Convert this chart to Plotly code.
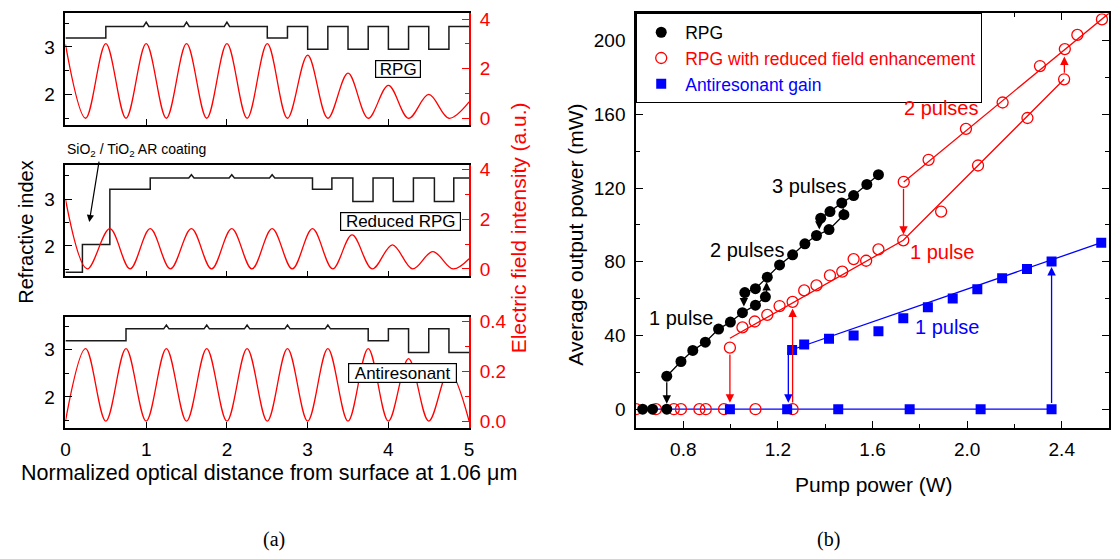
import plotly.graph_objects as go

# ---------------- DATA ----------------
# Panel (a) - refractive index layer structure (optical distance edges, index per layer)
rpg_edges = [0, 0.5, 2.5, 2.75, 3.0, 3.25, 3.5, 3.75, 4.0, 4.25, 4.5, 4.75, 5.0]
rpg_n = [3.19, 3.43, 3.19, 3.43, 2.95, 3.43, 2.95, 3.43, 2.95, 3.43, 2.95, 3.43]
rpg_qw = [1.0, 1.5, 2.0]

red_edges = [0, 0.21, 0.55, 1.05, 3.06, 3.30, 3.56, 3.81, 4.06, 4.31, 4.57, 4.81, 5.0]
red_n = [1.44, 2.03, 3.21, 3.45, 3.21, 3.45, 2.95, 3.45, 2.95, 3.45, 2.95, 3.45]
red_qw = [1.56, 2.06, 2.56]

anti_edges = [0, 0.75, 3.75, 4.0, 4.25, 4.5, 4.75, 5.0]
anti_n = [3.19, 3.44, 3.19, 3.44, 2.94, 3.44, 2.94]
anti_qw = [1.25, 1.75, 2.25, 2.75, 3.25]
qw_peak_n = 3.52

# Panel (a) - electric field intensity extrema
rpg_field_x = [0, 0.25, 0.5, 0.75, 1.0, 1.25, 1.5, 1.75, 2.0, 2.25, 2.5, 2.75,
               3.0, 3.25, 3.5, 3.75, 4.0, 4.25, 4.5, 4.75, 5.0]
rpg_field_y = [2.98, 0, 3.01, 0, 3.01, 0, 3.01, 0, 3.01, 0, 3.01, 0,
               2.55, 0, 1.82, 0, 1.33, 0, 0.96, 0, 0.66]

red_field_x = [0, 0.27, 0.55, 0.80, 1.05, 1.30, 1.56, 1.81, 2.06, 2.31, 2.56, 2.81,
               3.06, 3.31, 3.55, 3.80, 4.05, 4.30, 4.55, 4.80, 5.0]
red_field_y = [2.81, 0, 1.62, 0, 1.62, 0, 1.62, 0, 1.62, 0, 1.62, 0,
               1.62, 0, 1.37, 0, 0.97, 0, 0.70, 0, 0.41]

anti_field_x = [0, 0.25, 0.5, 0.75, 1.0, 1.25, 1.5, 1.75, 2.0, 2.25, 2.5, 2.75,
                3.0, 3.25, 3.5, 3.75, 4.0, 4.25, 4.5, 4.75, 5.0]
anti_field_y = [0, 0.29, 0, 0.29, 0, 0.29, 0, 0.29, 0, 0.29, 0, 0.29,
                0, 0.29, 0, 0.29, 0, 0.25, 0, 0.20, 0]

# Panel (b) - RPG (black)
blk_zero_x = [0.628, 0.67, 0.73]
blk_zero_y = [0, 0, 0]
blk_1p_x = [0.73, 0.79, 0.84, 0.893, 0.949, 0.999, 1.05, 1.105, 1.147]
blk_1p_y = [17.9, 25.9, 31.9, 36.4, 43.5, 47.3, 52.4, 56.5, 61.0]
blk_2p_x = [1.06, 1.105, 1.155, 1.207, 1.262, 1.314, 1.363, 1.416, 1.479]
blk_2p_y = [63.3, 65.4, 71.7, 78.3, 83.8, 89.8, 94.3, 97.5, 105.6]
blk_3p_x = [1.381, 1.42, 1.47, 1.52, 1.576, 1.625]
blk_3p_y = [103.7, 107.3, 112.0, 116.0, 122.0, 127.3]

# RPG with reduced field enhancement (red open)
rd_zero_x = [0.60, 0.684, 0.76, 0.79, 0.868, 0.895, 0.972, 1.105, 1.262]
rd_zero_y = [0, 0, 0, 0, 0, 0, 0, 0, 0]
rd_1p_x = [0.997, 1.05, 1.102, 1.155, 1.207, 1.262, 1.311, 1.363, 1.42, 1.472,
           1.52, 1.573, 1.625, 1.73, 1.89, 2.046, 2.255, 2.41]
rd_1p_y = [33.4, 44.4, 47.6, 51.2, 56.0, 58.3, 64.5, 67.2, 72.6, 74.7,
           81.5, 80.6, 86.8, 91.7, 107.3, 132.3, 158.1, 179.1]
rd_2p_x = [1.732, 1.837, 1.995, 2.15, 2.308, 2.413, 2.466, 2.57]
rd_2p_y = [123.4, 135.4, 152.2, 166.5, 186.3, 195.5, 203.2, 211.6]
rd_fit1_x = [0.997, 1.73, 2.41]
rd_fit1_y = [38.5, 91.7, 179.1]
rd_fit2_x = [1.732, 2.6]
rd_fit2_y = [123.4, 215.0]

# Antiresonant gain (blue squares)
bl_zero_x = [0.997, 1.239, 1.455, 1.757, 2.057, 2.357]
bl_zero_y = [0, 0, 0, 0, 0, 0]
bl_zero_line_x = [0.628, 2.357]
bl_zero_line_y = [0, 0]
bl_1p_x = [1.26, 1.311, 1.416, 1.52, 1.625, 1.73, 1.834, 1.939, 2.043, 2.148, 2.253, 2.357, 2.567]
bl_1p_y = [32.1, 35.1, 38.2, 40.0, 42.3, 49.4, 55.3, 60.1, 65.1, 71.1, 76.1, 80.2, 90.4]
bl_fit_x = [1.244, 2.567]
bl_fit_y = [31.6, 90.4]

# Transition arrows: (pump power, from, to, colour)
transitions = [
    (0.73, 15.5, 3.0, 'black'),
    (1.056, 63.3, 55.8, 'black'),
    (1.152, 61.0, 69.0, 'black'),
    (1.375, 103.7, 97.5, 'black'),
    (1.476, 105.6, 109.5, 'black'),
    (0.997, 30.5, 3.5, 'red'),
    (1.262, 2.8, 54.7, 'red'),
    (1.731, 120.5, 94.8, 'red'),
    (2.411, 181.8, 191.5, 'red'),
    (1.244, 31.6, 3.5, 'blue'),
    (2.357, 2.5, 77.2, 'blue'),
]

# ---------------- FIGURE ----------------
W, H = 1120, 559
def px(x):
    return x / W
def py(y):
    return 1 - y / H

FONT = "Liberation Sans, Arial, Helvetica, sans-serif"
SERIF = "Liberation Serif, Times New Roman, serif"


def profile(edges, n, qw, peak, half=0.033):
    xs, ys = [], []
    for i in range(len(n)):
        x0, x1 = edges[i], edges[i + 1]
        xs.append(x0); ys.append(n[i])
        for q in qw:
            if x0 < q < x1:
                xs += [q - half, q, q + half]
                ys += [n[i], peak, n[i]]
        xs.append(x1); ys.append(n[i])
    return xs, ys


fig = go.Figure()

panels = [
    (rpg_edges, rpg_n, rpg_qw, rpg_field_x, rpg_field_y, 'x', 'y', 'y2'),
    (red_edges, red_n, red_qw, red_field_x, red_field_y, 'x2', 'y3', 'y4'),
    (anti_edges, anti_n, anti_qw, anti_field_x, anti_field_y, 'x3', 'y5', 'y6'),
]
for edges, n, qw, fx, fy, xa, ya, ya2 in panels:
    ix, iy = profile(edges, n, qw, qw_peak_n)
    fig.add_trace(go.Scatter(x=ix, y=iy, xaxis=xa, yaxis=ya, mode='lines',
                             line=dict(color='#1a1a1a', width=1.5), showlegend=False,
                             hoverinfo='skip'))
    fig.add_trace(go.Scatter(x=fx, y=fy, xaxis=xa, yaxis=ya2, mode='lines',
                             line=dict(color='#ff0000', width=1.3, shape='spline', smoothing=1),
                             showlegend=False, hoverinfo='skip'))

# Panel (b)
XB, YB = 'x4', 'y7'
fig.add_trace(go.Scatter(x=bl_zero_line_x, y=bl_zero_line_y, xaxis=XB, yaxis=YB, mode='lines',
                         line=dict(color='#0000ff', width=1.3), showlegend=False))
fig.add_trace(go.Scatter(x=rd_fit1_x, y=rd_fit1_y, xaxis=XB, yaxis=YB, mode='lines',
                         line=dict(color='#ff0000', width=1.3), showlegend=False))
fig.add_trace(go.Scatter(x=rd_fit2_x, y=rd_fit2_y, xaxis=XB, yaxis=YB, mode='lines',
                         line=dict(color='#ff0000', width=1.3), showlegend=False))
fig.add_trace(go.Scatter(x=bl_fit_x, y=bl_fit_y, xaxis=XB, yaxis=YB, mode='lines',
                         line=dict(color='#0000ff', width=1.3), showlegend=False))

red_marker = dict(symbol='circle-open', size=11, color='#ff0000', line=dict(width=1.3, color='#ff0000'))
blue_marker = dict(symbol='square', size=10, color='#0000ff')
blk_marker = dict(symbol='circle', size=11, color='black')

fig.add_trace(go.Scatter(x=rd_zero_x, y=rd_zero_y, xaxis=XB, yaxis=YB, mode='markers',
                         marker=red_marker, legendrank=2, showlegend=True,
                         name="<span style='color:#ff0000'>RPG with reduced field enhancement</span>"))
fig.add_trace(go.Scatter(x=rd_1p_x, y=rd_1p_y, xaxis=XB, yaxis=YB, mode='markers',
                         marker=red_marker, showlegend=False))
fig.add_trace(go.Scatter(x=rd_2p_x, y=rd_2p_y, xaxis=XB, yaxis=YB, mode='markers',
                         marker=red_marker, showlegend=False))
fig.add_trace(go.Scatter(x=bl_zero_x, y=bl_zero_y, xaxis=XB, yaxis=YB, mode='markers',
                         marker=blue_marker, legendrank=3, showlegend=True,
                         name="<span style='color:#0000ff'>Antiresonant gain</span>"))
fig.add_trace(go.Scatter(x=bl_1p_x, y=bl_1p_y, xaxis=XB, yaxis=YB, mode='markers',
                         marker=blue_marker, showlegend=False))
fig.add_trace(go.Scatter(x=blk_zero_x, y=blk_zero_y, xaxis=XB, yaxis=YB, mode='markers',
                         marker=blk_marker, legendrank=1, showlegend=True, name='RPG'))
for bx, by in [(blk_1p_x, blk_1p_y), (blk_2p_x, blk_2p_y), (blk_3p_x, blk_3p_y)]:
    fig.add_trace(go.Scatter(x=bx, y=by, xaxis=XB, yaxis=YB, mode='lines+markers',
                             line=dict(color='black', width=1.3), marker=blk_marker,
                             showlegend=False))

# ---------------- AXES ----------------
LX = [61 / W, 468.3 / W]
dom1 = [py(121), py(7.3)]
dom2 = [py(275.3), py(162.3)]
dom3 = [py(429.3), py(316.7)]

tickfont = dict(family=FONT, size=19, color='black')
redfont = dict(family=FONT, size=19, color='#ff0000')

def xleft(anchor, labels):
    return dict(domain=LX, anchor=anchor, range=[0, 5], showline=True, linecolor='black',
                linewidth=1.5, mirror=True, ticks='inside', ticklen=6, tickwidth=1.3,
                tickcolor='black', tick0=0, dtick=1, showticklabels=labels, tickfont=tickfont,
                showgrid=False, zeroline=False, ticklabelstandoff=4)

def yleft(dom, anchor, rng):
    return dict(domain=dom, anchor=anchor, range=rng, showline=True, linecolor='black',
                linewidth=1.5, ticks='inside', ticklen=7, tickwidth=1.3, tickcolor='black',
                tick0=0, dtick=1, minor=dict(dtick=0.5, ticks='inside', ticklen=4,
                                             tickcolor='black', tickwidth=1.3),
                tickfont=tickfont, showgrid=False, zeroline=False, ticklabelstandoff=5)

def yright(over, anchor, rng, dt, mdt, fmt=None):
    d = dict(overlaying=over, anchor=anchor, side='right', range=rng, showline=True,
             linecolor='#ff0000', linewidth=1.5, ticks='inside', ticklen=7, tickwidth=1.3,
             tickcolor='#ff0000', tick0=0, dtick=dt,
             minor=dict(dtick=mdt, ticks='inside', ticklen=4, tickcolor='#ff0000', tickwidth=1.3),
             tickfont=redfont, showgrid=False, zeroline=False, ticklabelstandoff=5)
    if fmt:
        d['tickformat'] = fmt
    return d

fig.update_layout(
    xaxis=xleft('y', False),
    yaxis=yleft(dom1, 'x', [1.36, 3.71]),
    yaxis2=yright('y', 'x', [-0.265, 4.24], 2, 1),
    xaxis2=xleft('y3', False),
    yaxis3=yleft(dom2, 'x2', [1.35, 3.72]),
    yaxis4=yright('y3', 'x2', [-0.3, 4.17], 2, 1),
    xaxis3=xleft('y5', True),
    yaxis5=yleft(dom3, 'x3', [1.35, 3.69]),
    yaxis6=yright('y5', 'x3', [-0.026, 0.416], 0.2, 0.1, '.1f'),
    xaxis4=dict(domain=[636.7 / W, 1114 / W], anchor='y7', range=[0.6, 2.6], showline=True,
                linecolor='black', linewidth=1.5, mirror='ticks', ticks='inside', ticklen=7,
                tickwidth=1.3, tickcolor='black', tick0=0.8, dtick=0.4, tickformat='.1f',
                minor=dict(dtick=0.2, ticks='inside', ticklen=4, tickcolor='black', tickwidth=1.3),
                tickfont=tickfont, showgrid=False, zeroline=False, ticklabelstandoff=4),
    yaxis7=dict(domain=[py(429.3), py(7.3)], anchor='x4', range=[-10, 215], showline=True,
                linecolor='black', linewidth=1.5, mirror='ticks', ticks='inside', ticklen=7,
                tickwidth=1.3, tickcolor='black', tick0=0, dtick=40,
                minor=dict(dtick=20, ticks='inside', ticklen=4, tickcolor='black', tickwidth=1.3),
                tickfont=tickfont, showgrid=False, zeroline=False, ticklabelstandoff=5),
)

# ---------------- ANNOTATIONS ----------------
ann = []

def text(x, y, s, size=20, color='black', angle=0, family=FONT):
    ann.append(dict(x=px(x), y=py(y), xref='paper', yref='paper', text=s, showarrow=False,
                    xanchor='center', yanchor='middle', textangle=angle,
                    font=dict(family=family, size=size, color=color)))

def box(x, y, s, w, h):
    ann.append(dict(x=px(x), y=py(y), xref='paper', yref='paper', text=s, showarrow=False,
                    xanchor='center', yanchor='middle', bgcolor='white', bordercolor='black',
                    borderwidth=1.2, borderpad=0, width=w, height=h,
                    font=dict(family=FONT, size=17, color='black')))

text(21, 230, 'Refractive index', 20, angle=-90)
text(519, 226, 'Electric field intensity (a.u.)', 21, '#ff0000', angle=-90)
text(266, 476, 'Normalized optical distance from surface at 1.06 \u03bcm', 21.5)
text(576, 233, 'Average output power (mW)', 21, angle=-90)
text(877, 487, 'Pump power (W)', 21)
text(271, 543, '(a)', 20, family=SERIF)
text(831, 543, '(b)', 20, family=SERIF)

box(397, 64, 'RPG', 44, 16)
box(399.5, 219.5, 'Reduced RPG', 119, 17)
box(401, 374, 'Antiresonant', 107, 18)

text(132.5, 147, 'SiO<sub>2</sub> / TiO<sub>2</sub> AR coating', 14)
ann.append(dict(x=0.295, y=2.51, xref='x2', yref='y3', ax=10, ay=-62, text='',
                showarrow=True, arrowhead=2, arrowsize=1.2, arrowwidth=1.2, arrowcolor='black'))

text(812, 183, '3 pulses', 20)
text(749, 248, '2 pulses', 20)
text(683, 318, '1 pulse', 20)
text(945, 104, '2 pulses', 20, '#ff0000')
text(946, 250, '1 pulse', 20, '#ff0000')
text(951, 327, '1 pulse', 20, '#0000ff')

for xv, y0, y1, c in transitions:
    ann.append(dict(x=xv, y=y1, ax=xv, ay=y0, xref=XB, yref=YB, axref=XB, ayref=YB,
                    text='', showarrow=True, arrowhead=2, arrowsize=1.3, arrowwidth=1.3,
                    arrowcolor=c, standoff=0, startstandoff=0))

fig.update_layout(
    annotations=ann,
    width=W, height=H,
    margin=dict(l=0, r=0, t=0, b=0),
    paper_bgcolor='white', plot_bgcolor='white',
    font=dict(family=FONT, size=18, color='black'),
    showlegend=True,
    legend=dict(x=636.7 / W, y=py(7.3), xanchor='left', yanchor='top',
                bgcolor='white', bordercolor='black', borderwidth=1.2,
                font=dict(family=FONT, size=17.5, color='black'),
                itemwidth=38, traceorder='normal'),
)

fig.write_html("out.html")
